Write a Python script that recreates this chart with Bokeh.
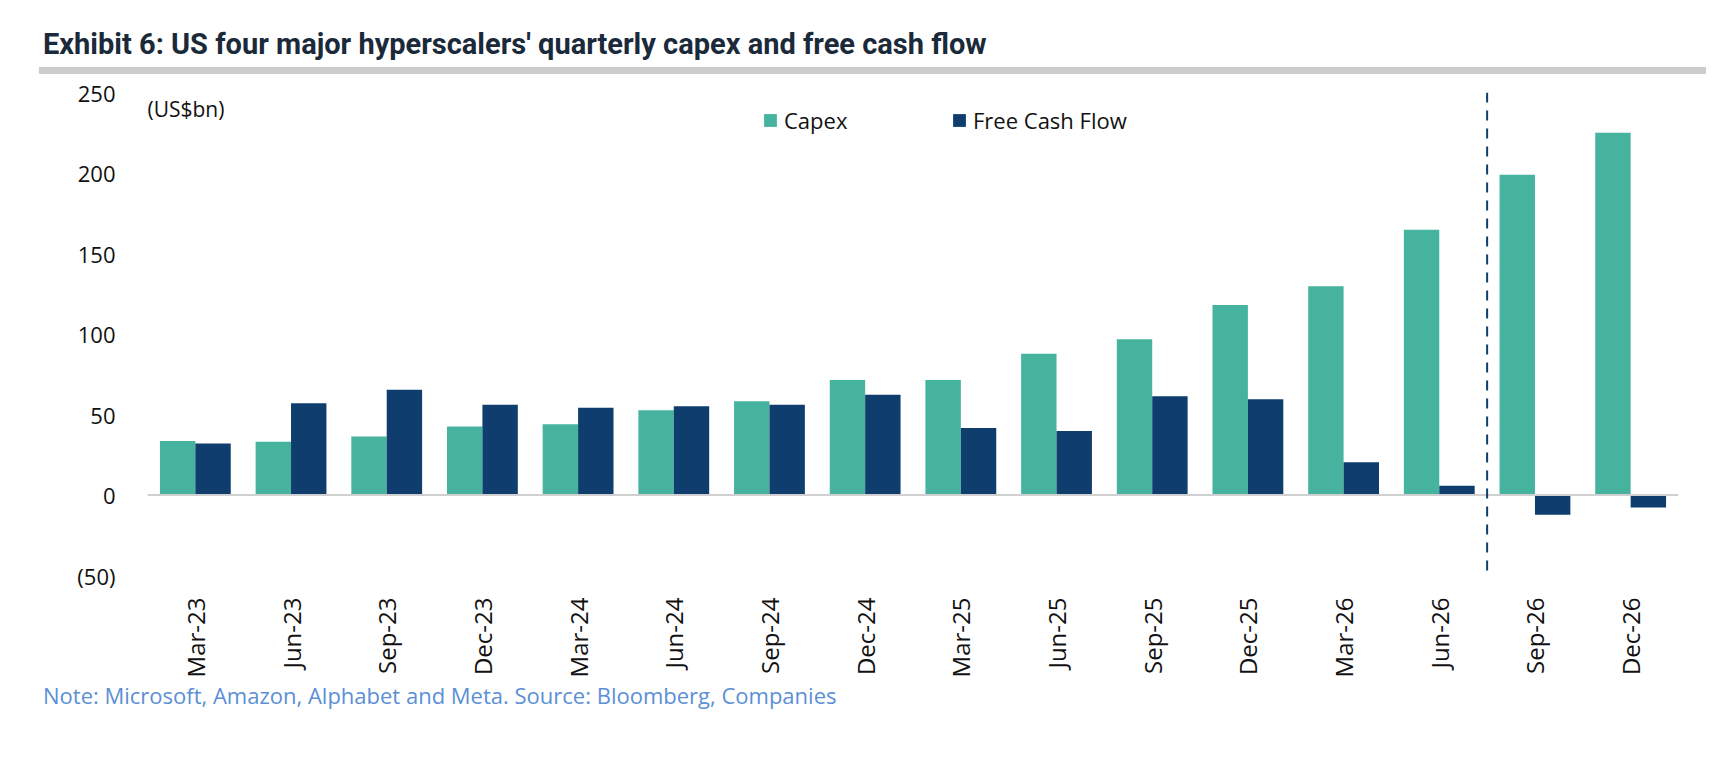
from bokeh.plotting import figure
from bokeh.models import FactorRange, Span, Label, Legend, LegendItem, FixedTicker, Div, ColumnDataSource
from bokeh.layouts import column
from bokeh.transform import dodge
from bokeh.embed import file_html
from bokeh.resources import INLINE
import math

quarters = ["Mar-23","Jun-23","Sep-23","Dec-23","Mar-24","Jun-24","Sep-24","Dec-24",
            "Mar-25","Jun-25","Sep-25","Dec-25","Mar-26","Jun-26","Sep-26","Dec-26"]
capex = [33.6, 33.0, 36.3, 42.5, 44.0, 52.6, 58.2, 71.4, 71.4, 87.7, 96.7, 118.0, 129.6, 164.7, 198.9, 225.0]
fcf = [32.0, 57.0, 65.3, 56.0, 54.2, 55.1, 56.0, 62.2, 41.6, 39.7, 61.3, 59.4, 20.3, 5.8, -12.3, -7.7]
y_ticks = [-50, 0, 50, 100, 150, 200, 250]

TEAL = "#45B39D"
NAVY = "#0E3D6E"
FONT = "Open Sans"

src = ColumnDataSource(dict(q=quarters, capex=capex, fcf=fcf))

p = figure(x_range=FactorRange(*quarters), y_range=(-50, 250), width=1714, height=606,
           output_backend="svg", toolbar_location=None,
           min_border_left=147, min_border_right=36, min_border_top=18, min_border_bottom=0)
p.outline_line_color = None
p.xgrid.visible = False
p.ygrid.visible = False
p.x_range.range_padding = 0

r1 = p.vbar(x=dodge("q", -0.185, range=p.x_range), top="capex", width=0.37, source=src,
            fill_color=TEAL, line_color=None)
r2 = p.vbar(x=dodge("q", 0.185, range=p.x_range), top="fcf", width=0.37, source=src,
            fill_color=NAVY, line_color=None)

p.add_layout(Span(location=0, dimension="width", line_color="#D0D0D0", line_width=2))
p.add_layout(Span(location=14, dimension="height", line_color=NAVY, line_width=2, line_dash="10 8"))

p.yaxis.ticker = FixedTicker(ticks=y_ticks)
p.yaxis.major_label_overrides = {t: (f"({-t})" if t < 0 else str(t)) for t in y_ticks}
p.yaxis.axis_line_color = None
p.yaxis.major_tick_line_color = None
p.yaxis.minor_tick_line_color = None
p.yaxis.major_label_text_font = FONT
p.yaxis.major_label_text_font_size = "22px"
p.yaxis.major_label_text_color = "#111111"
p.yaxis.major_label_standoff = 26

p.xaxis.axis_line_color = None
p.xaxis.major_tick_line_color = None
p.xaxis.major_label_orientation = math.pi / 2
p.xaxis.major_label_text_font = FONT
p.xaxis.major_label_text_font_size = "24px"
p.xaxis.major_label_text_color = "#111111"
p.xaxis.major_label_standoff = 16

p.add_layout(Label(x=0, y=240, x_units="screen", y_units="data", text="(US$bn)",
                   text_font=FONT, text_font_size="21px", text_color="#111111",
                   text_baseline="middle"))

legend = Legend(items=[LegendItem(label="Capex", renderers=[r1]),
                       LegendItem(label="Free Cash Flow", renderers=[r2])],
                orientation="horizontal", location=(615, 440),
                background_fill_alpha=0, border_line_color=None,
                label_text_font=FONT, label_text_font_size="22px", label_text_color="#111111",
                glyph_width=16, glyph_height=16, label_standoff=6, label_width=150, spacing=17)
p.add_layout(legend)

title = Div(text="Exhibit 6: US four major hyperscalers' quarterly capex and free cash flow",
            width=1706, height=74, margin=(0, 0, 0, 0),
            styles={"font-family": "Roboto", "font-weight": "bold", "font-size": "29px",
                    "color": "#1B2A3A", "padding-top": "24px",
                    "box-sizing": "border-box", "border-bottom": "7px solid #CCCCCC",
                    "margin-left": "39px", "padding-left": "4px", "width": "1667px"})
note = Div(text="Note: Microsoft, Amazon, Alphabet and Meta. Source: Bloomberg, Companies",
           width=1706, height=36, margin=(0, 0, 0, 0),
           styles={"font-family": FONT, "font-size": "22px", "color": "#5B8FD6",
                   "padding-left": "43px"})

layout = column(title, p, note, spacing=0)
open("out.html", "w").write(file_html(layout, INLINE))
